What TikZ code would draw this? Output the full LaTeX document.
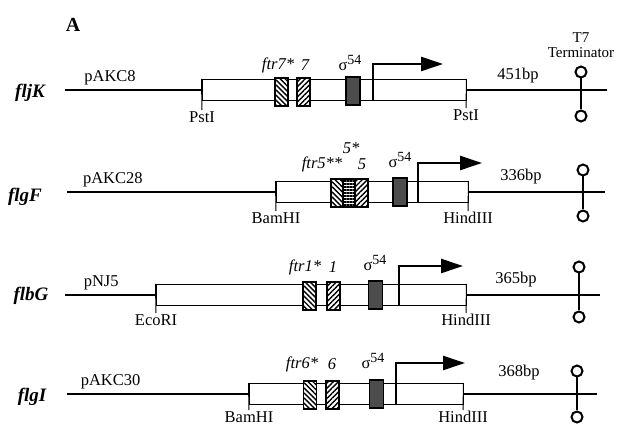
\documentclass[tikz,border=0pt]{standalone}
\usepackage{fontspec}
\setmainfont{Liberation Serif}
\usepackage{tikz}
\usetikzlibrary{arrows.meta, patterns, patterns.meta, positioning}
\tikzset{
    txt/.style={font=\fontsize{16.5}{18}\selectfont, inner sep=1pt},
    ital/.style={txt, font=\fontsize{16.5}{18}\selectfont\itshape},
    gene/.style={font=\fontsize{19}{21}\selectfont\bfseries\itshape, inner sep=1pt},
    vector/.style={line width=2.6pt},
    flank/.style={line width=2.2pt},
    insert/.style={draw, line width=1pt, fill=white, inner sep=0pt, minimum height=21pt},
    cut/.style={line width=1pt},
    site/.style={draw, line width=1.2pt, inner sep=0pt, minimum width=13pt, minimum height=28pt, preaction={fill=white}},
    sitea/.style={site, pattern={Lines[angle=-45, distance=3.6pt, line width=1.4pt]}},
    siteb/.style={site, pattern={Lines[angle=45, distance=3.6pt, line width=1.4pt]}},
    sitem/.style={site, pattern={Lines[angle=0, distance=3pt, line width=1.1pt]}},
    sigbox/.style={draw, line width=1.2pt, fill=black!70, inner sep=0pt, minimum width=14pt, minimum height=28pt},
    prom/.style={line width=2.6pt, -{Triangle[length=22pt, width=14pt]}},
    term/.style={circle, draw, line width=2pt, fill=white, inner sep=0pt, minimum size=11pt},
    stem/.style={line width=2pt}
}
\newcommand{\sigfs}{σ\raisebox{0.42em}{\fontsize{14}{14}\selectfont 54}}

\begin{document}
\begin{tikzpicture}[x=1pt, y=-1pt]
    \useasboundingbox (0,0) rectangle (619,430);
    \node (panel) [font=\fontsize{20}{22}\selectfont\bfseries] at (73,25) {A};
    \node (t7) [txt, align=center, font=\fontsize{15}{15}\selectfont] at (581,45) {T7\\Terminator};

    % fljK
    \node (g1) [gene] at (30,93) {fljK};
    \coordinate (a1) at (65,90);
    \coordinate (z1) at (607,90);
    \node (ins1) [insert, minimum width=264pt] at (334,90) {};
    \draw [vector] (a1) -- node[txt, above=3pt, pos=0.33] (p1) {pAKC8} (ins1.west);
    \draw [flank] (ins1.east) -- (z1);
    \coordinate (c1a) at (202,110);
    \coordinate (c1b) at (466,108);
    \draw [cut] (ins1.north west) -- (c1a);
    \draw [cut] (ins1.north east) -- (c1b);
    \node (r1a) [txt, below=0pt of c1a] {PstI};
    \node (r1b) [txt, below=0pt of c1b] {PstI};
    \node (s1a) [sitea] at (281.5,92) {};
    \node (s1b) [siteb] at (303.5,92) {};
    \node (sg1) [sigbox] at (353,91) {};
    \node (f1a) [ital] at (278,65) {ftr7*};
    \node (f1b) [ital] at (305,65) {7};
    \node (n1) [txt] at (350,63) {\sigfs};
    \coordinate (tss1) at (373,101);
    \coordinate (pe1) at (443,64);
    \draw [prom] (tss1) |- (pe1);
    \node (bp1) [txt] at (518,76) {451bp};
    \node (t1a) [term] at (581,72) {};
    \node (t1b) [term] at (581,116) {};
    \draw [stem] (t1a) -- (t1b);

    % flgF
    \node (g2) [gene] at (25,197) {flgF};
    \coordinate (a2) at (67,192);
    \coordinate (z2) at (605,192);
    \node (ins2) [insert, minimum width=192pt] at (372,192) {};
    \draw [vector] (a2) -- node[txt, above=3pt, pos=0.22] (p2) {pAKC28} (ins2.west);
    \draw [flank] (ins2.east) -- (z2);
    \coordinate (c2a) at (276,211);
    \coordinate (c2b) at (468,211);
    \draw [cut] (ins2.north west) -- (c2a);
    \draw [cut] (ins2.north east) -- (c2b);
    \node (r2a) [txt, below=0pt of c2a] {BamHI};
    \node (r2b) [txt, below=0pt of c2b] {HindIII};
    \node (s2a) [sitea, minimum width=12pt] at (337,193) {};
    \node (s2m) [sitem, minimum width=12pt] at (349,193) {};
    \node (s2b) [siteb, minimum width=13pt] at (361.5,193) {};
    \node (sg2) [sigbox] at (400,192) {};
    \node (f2a) [ital] at (322,164) {ftr5**};
    \node (f2m) [ital] at (351,148) {5*};
    \node (f2b) [ital] at (362,164) {5};
    \node (n2) [txt] at (400,160) {\sigfs};
    \coordinate (tss2) at (418,202);
    \coordinate (pe2) at (482,163);
    \draw [prom] (tss2) |- (pe2);
    \node (bp2) [txt] at (521,177) {336bp};
    \node (t2a) [term] at (583,170) {};
    \node (t2b) [term] at (583,216) {};
    \draw [stem] (t2a) -- (t2b);

    % flbG
    \node (g3) [gene] at (31,296) {flbG};
    \coordinate (a3) at (65,295);
    \coordinate (z3) at (600,295);
    \node (ins3) [insert, minimum width=310pt] at (311,295) {};
    \draw [vector] (a3) -- node[txt, above=3pt, pos=0.4] (p3) {pNJ5} (ins3.west);
    \draw [flank] (ins3.east) -- (z3);
    \coordinate (c3a) at (156,313);
    \coordinate (c3b) at (466,313);
    \draw [cut] (ins3.north west) -- (c3a);
    \draw [cut] (ins3.north east) -- (c3b);
    \node (r3a) [txt, below=0pt of c3a] {EcoRI};
    \node (r3b) [txt, below=0pt of c3b] {HindIII};
    \node (s3a) [sitea] at (309.5,296) {};
    \node (s3b) [siteb] at (333.5,296) {};
    \node (sg3) [sigbox] at (375.5,295) {};
    \node (f3a) [ital] at (305,267) {ftr1*};
    \node (f3b) [ital] at (333,267) {1};
    \node (n3) [txt] at (375,263) {\sigfs};
    \coordinate (tss3) at (399,305);
    \coordinate (pe3) at (463,266);
    \draw [prom] (tss3) |- (pe3);
    \node (bp3) [txt] at (516,280) {365bp};
    \node (t3a) [term] at (579,267) {};
    \node (t3b) [term] at (579,317) {};
    \draw [stem] (t3a) -- (t3b);

    % flgI
    \node (g4) [gene] at (32,397) {flgI};
    \coordinate (a4) at (67,394);
    \coordinate (z4) at (597,394);
    \node (ins4) [insert, minimum width=214pt] at (356,394) {};
    \draw [vector] (a4) -- node[txt, above=3pt, pos=0.24] (p4) {pAKC30} (ins4.west);
    \draw [flank] (ins4.east) -- (z4);
    \coordinate (c4a) at (249,410);
    \coordinate (c4b) at (463,410);
    \draw [cut] (ins4.north west) -- (c4a);
    \draw [cut] (ins4.north east) -- (c4b);
    \node (r4a) [txt, below=0pt of c4a] {BamHI};
    \node (r4b) [txt, below=0pt of c4b] {HindIII};
    \node (s4a) [sitea] at (310,395) {};
    \node (s4b) [siteb] at (332.5,395) {};
    \node (sg4) [sigbox] at (376.5,394) {};
    \node (f4a) [ital] at (302,364) {ftr6*};
    \node (f4b) [ital] at (332,364) {6};
    \node (n4) [txt] at (373,361) {\sigfs};
    \coordinate (tss4) at (396,404);
    \coordinate (pe4) at (465,363);
    \draw [prom] (tss4) |- (pe4);
    \node (bp4) [txt] at (519,373) {368bp};
    \node (t4a) [term] at (577,371) {};
    \node (t4b) [term] at (577,417) {};
    \draw [stem] (t4a) -- (t4b);
\end{tikzpicture}
\end{document}
